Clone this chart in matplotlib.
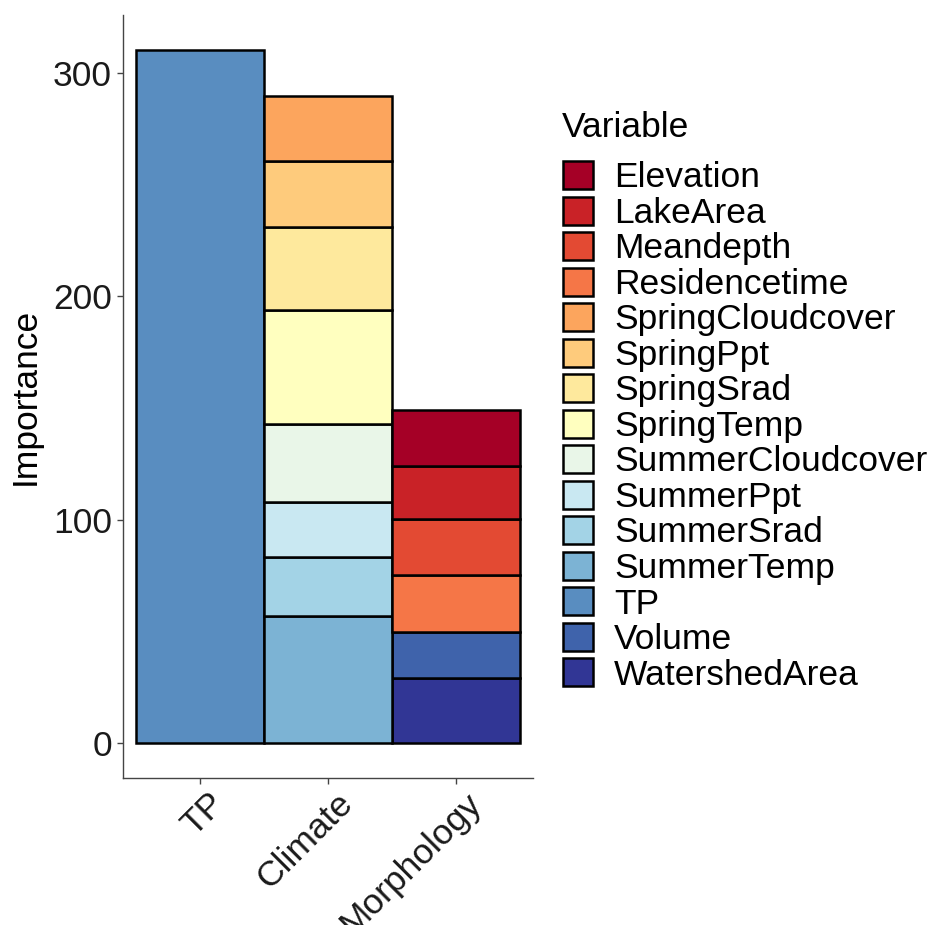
import matplotlib
matplotlib.use("Agg")
import matplotlib.pyplot as plt
import matplotlib.transforms as mtransforms
from matplotlib.patches import Patch

plt.rcParams['font.family'] = ['Liberation Sans', 'DejaVu Sans']

groups = ["TP", "Climate", "Morphology"]
variables = ["Elevation", "LakeArea", "Meandepth", "Residencetime",
             "SpringCloudcover", "SpringPpt", "SpringSrad", "SpringTemp",
             "SummerCloudcover", "SummerPpt", "SummerSrad", "SummerTemp",
             "TP", "Volume", "WatershedArea"]
var_group = ["Morphology", "Morphology", "Morphology", "Morphology",
             "Climate", "Climate", "Climate", "Climate",
             "Climate", "Climate", "Climate", "Climate",
             "TP", "Morphology", "Morphology"]
importance = [25.3, 23.5, 24.9, 25.6,
              29.0, 29.7, 37.0, 51.1,
              35.1, 24.2, 26.7, 56.9,
              310.4, 20.5, 29.4]
colors = ["#A50026", "#C92227", "#E34A33", "#F57647", "#FCA55D", "#FECB7C",
          "#FEE99D", "#FFFFBF", "#E9F6E8", "#C9E8F2", "#A3D3E6", "#7CB3D4",
          "#598DC0", "#3F63AB", "#313695"]

FS = 25.5
fig = plt.figure(figsize=(9.47, 9.25), dpi=100)
ax = fig.add_axes([123/947, 1-778/925, 410/947, 763/925])

xpos = {g: i + 1 for i, g in enumerate(groups)}
bottoms = {g: 0.0 for g in groups}
# stack in reverse order so the first level sits on top (ggplot style)
for v, g, val, c in reversed(list(zip(variables, var_group, importance, colors))):
    ax.bar(xpos[g], val, bottom=bottoms[g], width=1.0, color=c,
           edgecolor="black", linewidth=1.8, zorder=2)
    bottoms[g] += val

ax.set_xlim(0.4, 3.6)
total_max = max(bottoms.values())
ax.set_ylim(-0.05 * total_max, total_max * 1.05)
ax.set_xticks([1, 2, 3])
ax.set_xticklabels(groups, rotation=45, ha="right", va="top",
                   rotation_mode="anchor", fontsize=FS, color="#1a1a1a")
ax.set_yticks([0, 100, 200, 300])
ax.set_yticklabels(["0", "100", "200", "300"], fontsize=FS, color="#1a1a1a")
ax.tick_params(axis="both", length=4.5, width=1, color="#444444", pad=3.5)
ax.tick_params(axis="x", pad=2)
shift = mtransforms.ScaledTranslation(8/100, 0, fig.dpi_scale_trans)
for lab in ax.get_xticklabels():
    lab.set_transform(lab.get_transform() + shift)
for s in ["top", "right"]:
    ax.spines[s].set_visible(False)
for s in ["left", "bottom"]:
    ax.spines[s].set_color("#444444")
    ax.spines[s].set_linewidth(1.0)
ax.set_ylabel("Importance", fontsize=FS, labelpad=8)

fig.text(562/947, 1-137/925, "Variable", fontsize=FS, ha="left", va="baseline")
leg_handles = [Patch(facecolor=c, edgecolor="black", linewidth=1.8) for c in colors]
leg = fig.legend(leg_handles, variables, loc="upper left",
                 bbox_to_anchor=(563/947, 1-161/925), frameon=False,
                 fontsize=FS, handlelength=0.85, handleheight=0.85,
                 labelspacing=0.06, handletextpad=0.59,
                 borderpad=0.0, borderaxespad=0.0)

fig.savefig("out.png", dpi=100)
